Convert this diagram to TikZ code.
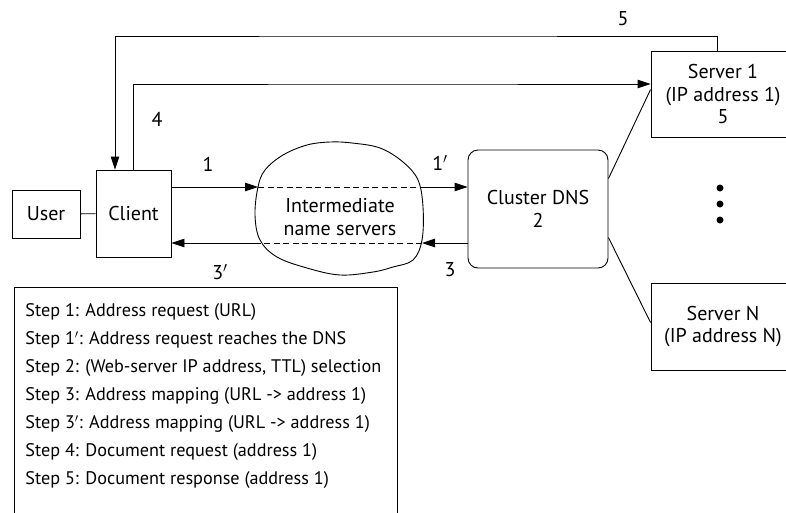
\documentclass[tikz,border=0pt]{standalone}
\usepackage{fontspec}
\setmainfont{PT Sans}
\usetikzlibrary{arrows.meta,calc}

\begin{document}
\begin{tikzpicture}[x=1pt,y=-1pt,
  line width=0.9pt,
  lbl/.style={font=\fontsize{20}{22.5}\selectfont, inner sep=0pt, align=center},
  legtext/.style={font=\fontsize{18.2}{21}\selectfont, inner sep=0pt, anchor=west},
  box/.style={draw, rectangle, inner sep=0pt, lbl},
  arr/.style={-{Triangle[length=13pt,width=8.5pt]}},
  thru/.style={dash pattern=on 6pt off 3.5pt},
]
\useasboundingbox (0,0) rectangle (786,512);
\clip (0,0) rectangle (786,512);

% boxes
\node[box, minimum width=68pt, minimum height=48pt] (user) at (46,214) {User};
\node[box, minimum width=75pt, minimum height=87pt] (client) at (133.5,213.5) {Client};
\node[box, rounded corners=10pt, minimum width=140pt, minimum height=118pt] (dns) at (538,209) {Cluster DNS\\2};
\node[box, minimum width=144pt, minimum height=86pt] (server1) at (723,94) {Server 1\\(IP address 1)\\5};
\node[box, minimum width=144pt, minimum height=87pt] (serverN) at (723,326.5) {Server N\\(IP address N)};

% cloud of intermediate name servers
\draw plot[smooth cycle, tension=0.6] coordinates {
  (258,187) (265,170) (283,155) (307,145) (330,142) (352,143) (380,148)
  (403,162) (418,180) (423,207) (422,240) (413,260) (393,267) (373,272)
  (340,275) (307,268) (277,257) (260,240) (255,215)};
\node[lbl] (ns) at (340,217) {Intermediate\\name servers};

\coordinate (c1in) at (258,187);
\coordinate (c1out) at (420,187);
\coordinate (c3in) at (422,243);
\coordinate (c3out) at (258,243);
\coordinate (top5) at (400,36);
\coordinate (top4) at (400,84);

% request and reply through the name servers
\draw (user) -- (client);
\draw[arr] (client.east |- c1in) -- (c1in);
\draw[thru] (c1in) -- (c1out);
\draw[arr] (c1out) -- (dns.west |- c1out);
\draw[arr] (dns.west |- c3in) -- (c3in);
\draw[thru] (c3in) -- (c3out);
\draw[arr] (c3out) -- (client.east |- c3out);

% document request and response
\draw[arr] (client.north) |- (top4) -- (server1.west |- top4);
\draw[arr] ([xshift=-6pt]server1.north) |- (top5) -| ([xshift=-18.5pt]client.north);

% DNS to the servers
\draw ([yshift=-29pt]dns.north east) -- ([yshift=-39pt]server1.north west);
\draw ([yshift=-88pt]dns.north east) -- ([yshift=-40pt]serverN.north west);

% dots between servers
\foreach \yy in {188,204,220} \fill (720,\yy) circle (3.5pt);

% step labels
\node[lbl] (l1) at (208,164) {1};
\node[lbl] (l1p) at (440,163) {1$'$};
\node[lbl] (l3p) at (220,272) {3$'$};
\node[lbl] (l3) at (450,270) {3};
\node[lbl] (l4) at (157,119) {4};
\node[lbl] (l5) at (623,19) {5};

% legend
\node[draw, anchor=north west, minimum width=383pt, minimum height=260pt, inner sep=0pt] (legend) at (14,287) {};
\node[legtext] (s1) at (25,312) {Step 1: Address request (URL)};
\node[legtext] (s1p) at (25,340) {Step 1$'$: Address request reaches the DNS};
\node[legtext] (s2) at (25,368) {Step 2: (Web-server IP address, TTL) selection};
\node[legtext] (s3) at (25,396) {Step 3: Address mapping (URL -> address 1)};
\node[legtext] (s3p) at (25,424) {Step 3$'$: Address mapping (URL -> address 1)};
\node[legtext] (s4) at (25,452) {Step 4: Document request (address 1)};
\node[legtext] (s5) at (25,480) {Step 5: Document response (address 1)};
\end{tikzpicture}
\end{document}
